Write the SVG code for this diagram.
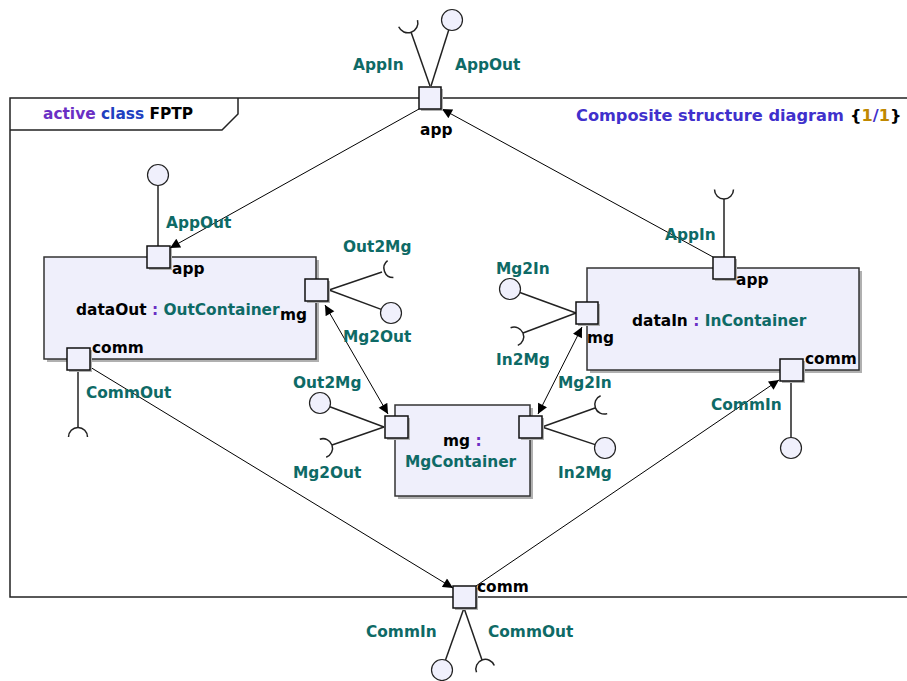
<svg xmlns="http://www.w3.org/2000/svg" width="907" height="681" viewBox="0 0 907 681">
<defs>
<style>
.t{font-family:"DejaVu Sans",Verdana,sans-serif;font-weight:bold;font-size:15.4px}
.teal{fill:#0e6a66}
.blk{fill:#000}
.pur{fill:#6a2fc4}
.blu{fill:#2040c0}
.ttl{fill:#4030cc}
.gold{fill:#c08800}
.frame{fill:none;stroke:#222;stroke-width:1.5}
.box{fill:#efeffb;stroke:#333;stroke-width:1.5}
.sh{fill:#b0b0b0}
.port{fill:#f0f0fc;stroke:#111;stroke-width:1.5}
.ifl{fill:none;stroke:#222;stroke-width:1.5}
.ball{fill:#f0f0fc;stroke:#222;stroke-width:1.2}
.conn{fill:none;stroke:#000;stroke-width:1;marker-end:url(#arr)}
.bi{marker-start:url(#arr)}
</style>
<marker id="arr" viewBox="0 0 10 10" refX="10" refY="5" markerWidth="11" markerHeight="10" markerUnits="userSpaceOnUse" orient="auto-start-reverse">
<path d="M0,0 L10,5 L0,10 z" fill="#000"/>
</marker>
</defs>

<g id="frame">
<rect x="10" y="98" width="920" height="499" class="frame"/>
<path d="M10,130 L222,130 L238,114 L238,98" class="frame"/>
<text x="43" y="119" class="t"><tspan class="pur">active</tspan> <tspan class="blu">class</tspan> <tspan class="blk">FPTP</tspan></text>
<text x="576" y="121" class="t" style="font-size:16.2px"><tspan class="ttl">Composite structure diagram</tspan><tspan x="850" class="blk">{</tspan><tspan class="gold">1</tspan><tspan class="ttl">/</tspan><tspan class="gold">1</tspan><tspan class="blk">}</tspan></text>
</g>

<g id="connectors">
<line x1="419" y1="109" x2="170" y2="248" class="conn"/>
<line x1="713" y1="257" x2="442" y2="109" class="conn"/>
<line x1="90" y1="367" x2="453" y2="588" class="conn"/>
<line x1="476" y1="586" x2="779" y2="380" class="conn"/>
<line x1="325" y1="305" x2="388" y2="414" class="conn bi"/>
<line x1="582" y1="327" x2="538" y2="414" class="conn bi"/>
</g>

<g id="port-app">
<line x1="430" y1="86" x2="411" y2="32" class="ifl"/>
<path d="M417.5,20.1 A10,10 0 0 1 398.7,26.8" class="ifl"/>
<line x1="431" y1="86" x2="448.9" y2="29.5" class="ifl"/>
<circle cx="452" cy="20" r="10.5" class="ball"/>
<rect x="421" y="89" width="22" height="22" class="sh"/>
<rect x="419" y="87" width="22" height="22" class="port"/>
<text x="353" y="70" class="t teal">AppIn</text>
<text x="455" y="70" class="t teal">AppOut</text>
<text x="420" y="135" class="t blk">app</text>
</g>

<g id="dataOut">
<rect x="47" y="260" width="272" height="102" class="sh"/>
<rect x="44" y="257" width="272" height="102" class="box"/>
<text x="76" y="315" class="t"><tspan class="blk">dataOut</tspan> <tspan class="pur">:</tspan> <tspan class="teal">OutContainer</tspan></text>
<line x1="158" y1="185.5" x2="158" y2="246" class="ifl"/>
<circle cx="158" cy="175" r="10.5" class="ball"/>
<rect x="149" y="248" width="23" height="22" class="sh"/>
<rect x="147" y="246" width="23" height="22" class="port"/>
<text x="166" y="228" class="t teal">AppOut</text>
<text x="172" y="274" class="t blk">app</text>
<line x1="329" y1="290" x2="382" y2="272" class="ifl"/>
<path d="M393.4,277.6 A9.5,9.5 0 0 1 387.6,260.6" class="ifl"/>
<line x1="329" y1="290" x2="381.2" y2="309.4" class="ifl"/>
<circle cx="391" cy="313" r="10.5" class="ball"/>
<rect x="307" y="281" width="23" height="22" class="sh"/>
<rect x="305" y="279" width="23" height="22" class="port"/>
<text x="343" y="252" class="t teal">Out2Mg</text>
<text x="343" y="342" class="t teal">Mg2Out</text>
<text x="280" y="320" class="t blk">mg</text>
<line x1="78" y1="371" x2="78" y2="427.5" class="ifl"/>
<path d="M68.5,437 A9.5,9.5 0 0 1 87.5,437" class="ifl"/>
<rect x="69" y="350" width="23" height="22" class="sh"/>
<rect x="67" y="348" width="23" height="22" class="port"/>
<text x="92" y="353" class="t blk">comm</text>
<text x="86" y="398" class="t teal">CommOut</text>
</g>

<g id="dataIn">
<rect x="590" y="271" width="272" height="102" class="sh"/>
<rect x="587" y="268" width="272" height="102" class="box"/>
<text x="632" y="326" class="t"><tspan class="blk">dataIn</tspan> <tspan class="pur">:</tspan> <tspan class="teal">InContainer</tspan></text>
<line x1="724" y1="257" x2="724" y2="199" class="ifl"/>
<path d="M733.5,189.5 A9.5,9.5 0 0 1 714.5,189.5" class="ifl"/>
<rect x="715" y="259" width="22" height="22" class="sh"/>
<rect x="713" y="257" width="22" height="22" class="port"/>
<text x="665" y="240" class="t teal">AppIn</text>
<text x="736" y="285" class="t blk">app</text>
<line x1="576" y1="313" x2="519.9" y2="292.5" class="ifl"/>
<circle cx="510" cy="289" r="10.5" class="ball"/>
<line x1="576" y1="313" x2="523" y2="333" class="ifl"/>
<path d="M510.6,327.8 A9.5,9.5 0 0 1 517.8,345.4" class="ifl"/>
<rect x="578" y="304" width="22" height="22" class="sh"/>
<rect x="576" y="302" width="22" height="22" class="port"/>
<text x="496" y="274" class="t teal">Mg2In</text>
<text x="496" y="365" class="t teal">In2Mg</text>
<text x="587" y="343" class="t blk">mg</text>
<line x1="791" y1="381" x2="791" y2="437.5" class="ifl"/>
<circle cx="791" cy="448" r="10.5" class="ball"/>
<rect x="782" y="361" width="23" height="22" class="sh"/>
<rect x="780" y="359" width="23" height="22" class="port"/>
<text x="805" y="364" class="t blk">comm</text>
<text x="711" y="410" class="t teal">CommIn</text>
</g>

<g id="mg">
<rect x="398" y="408" width="135" height="91" class="sh"/>
<rect x="395" y="405" width="135" height="91" class="box"/>
<text x="443" y="446" class="t"><tspan class="blk">mg</tspan> <tspan class="pur">:</tspan></text>
<text x="405" y="467" class="t teal">MgContainer</text>
<line x1="384" y1="427" x2="329.8" y2="406.7" class="ifl"/>
<circle cx="320" cy="403" r="10.5" class="ball"/>
<line x1="384" y1="427" x2="332" y2="445" class="ifl"/>
<path d="M319.8,439.2 A9.5,9.5 0 0 1 326.2,457.2" class="ifl"/>
<rect x="387" y="418" width="23" height="22" class="sh"/>
<rect x="385" y="416" width="23" height="22" class="port"/>
<line x1="542" y1="427" x2="595" y2="408" class="ifl"/>
<path d="M607.2,413.6 A9.5,9.5 0 0 1 600.6,395.8" class="ifl"/>
<line x1="542" y1="427" x2="595.1" y2="444.6" class="ifl"/>
<circle cx="605" cy="448" r="10.5" class="ball"/>
<rect x="521" y="418" width="23" height="22" class="sh"/>
<rect x="519" y="416" width="23" height="22" class="port"/>
<text x="293" y="388" class="t teal">Out2Mg</text>
<text x="293" y="478" class="t teal">Mg2Out</text>
<text x="558" y="388" class="t teal">Mg2In</text>
<text x="558" y="478" class="t teal">In2Mg</text>
</g>

<g id="port-comm">
<line x1="464" y1="608" x2="445.5" y2="660.1" class="ifl"/>
<circle cx="442" cy="670" r="10.5" class="ball"/>
<line x1="464" y1="608" x2="482" y2="660" class="ifl"/>
<path d="M476.5,672.3 A9.5,9.5 0 0 1 494.3,665.5" class="ifl"/>
<rect x="455" y="588" width="23" height="22" class="sh"/>
<rect x="453" y="586" width="23" height="22" class="port"/>
<text x="477" y="592" class="t blk">comm</text>
<text x="366" y="637" class="t teal">CommIn</text>
<text x="488" y="637" class="t teal">CommOut</text>
</g>
</svg>
